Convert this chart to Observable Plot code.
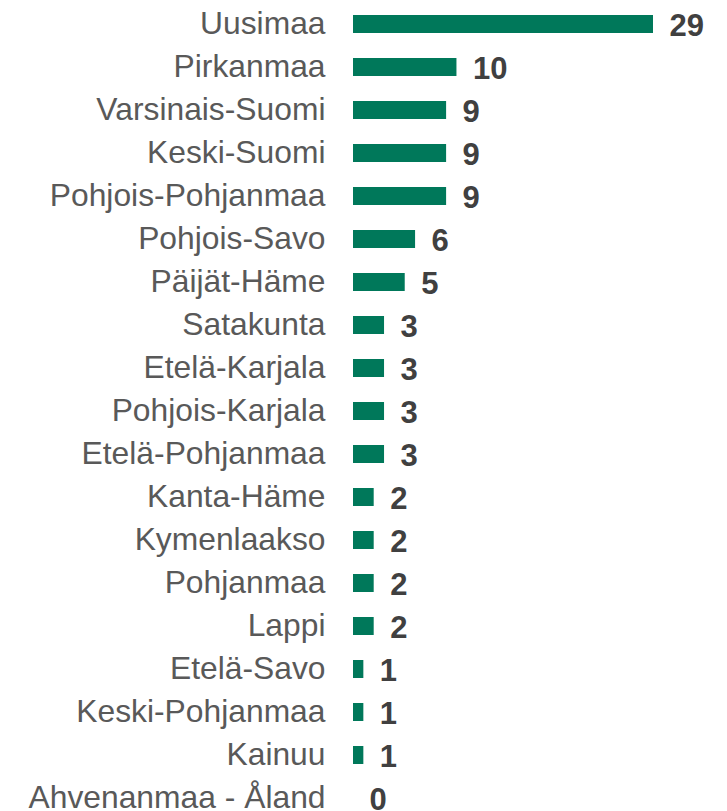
<!DOCTYPE html>
<html>
<head>
<meta charset="utf-8">
<script src="https://cdn.jsdelivr.net/npm/d3@7"></script>
<script src="https://cdn.jsdelivr.net/npm/@observablehq/plot@0.6"></script>
<style>
  html, body { margin: 0; padding: 0; background: #fff; }
  #chart svg { display: block; }
</style>
</head>
<body>
<div id="chart"></div>
<script>
const regions = ["Uusimaa", "Pirkanmaa", "Varsinais-Suomi", "Keski-Suomi", "Pohjois-Pohjanmaa", "Pohjois-Savo", "Päijät-Häme", "Satakunta", "Etelä-Karjala", "Pohjois-Karjala", "Etelä-Pohjanmaa", "Kanta-Häme", "Kymenlaakso", "Pohjanmaa", "Lappi", "Etelä-Savo", "Keski-Pohjanmaa", "Kainuu", "Ahvenanmaa - Åland"];
const counts = [29, 10, 9, 9, 9, 6, 5, 3, 3, 3, 3, 2, 2, 2, 2, 1, 1, 1, 0];

const data = regions.map((r, i) => ({region: r, value: counts[i]}));

const chart = Plot.plot({
  width: 727,
  height: 811,
  marginLeft: 353,
  marginRight: 74,
  marginTop: 0,
  marginBottom: 0,
  style: {fontFamily: "'Liberation Sans', Arial, sans-serif", background: "#fff"},
  x: {domain: [0, 29], range: [353, 653], axis: null},
  y: {domain: regions, range: [2, 819.6], paddingInner: 0.59, paddingOuter: 0.295, axis: null},
  marks: [
    Plot.ruleX([0], {stroke: "#efefef", strokeWidth: 1.5, dx: -1, y1: 0, y2: 811}),
    Plot.barX(data, {x: "value", y: "region", fill: "#00785a"}),
    Plot.text(data, {x: "value", y: "region", text: d => String(d.value), textAnchor: "start", dx: 16, dy: 2, fontSize: 31, fontWeight: "bold", fill: "#404040"}),
    Plot.text(data, {x: 0, y: "region", text: "region", textAnchor: "end", dx: -28, dy: -1, fontSize: 31.8, fill: "#595959"})
  ]
});
document.getElementById("chart").appendChild(chart);
</script>
</body>
</html>
